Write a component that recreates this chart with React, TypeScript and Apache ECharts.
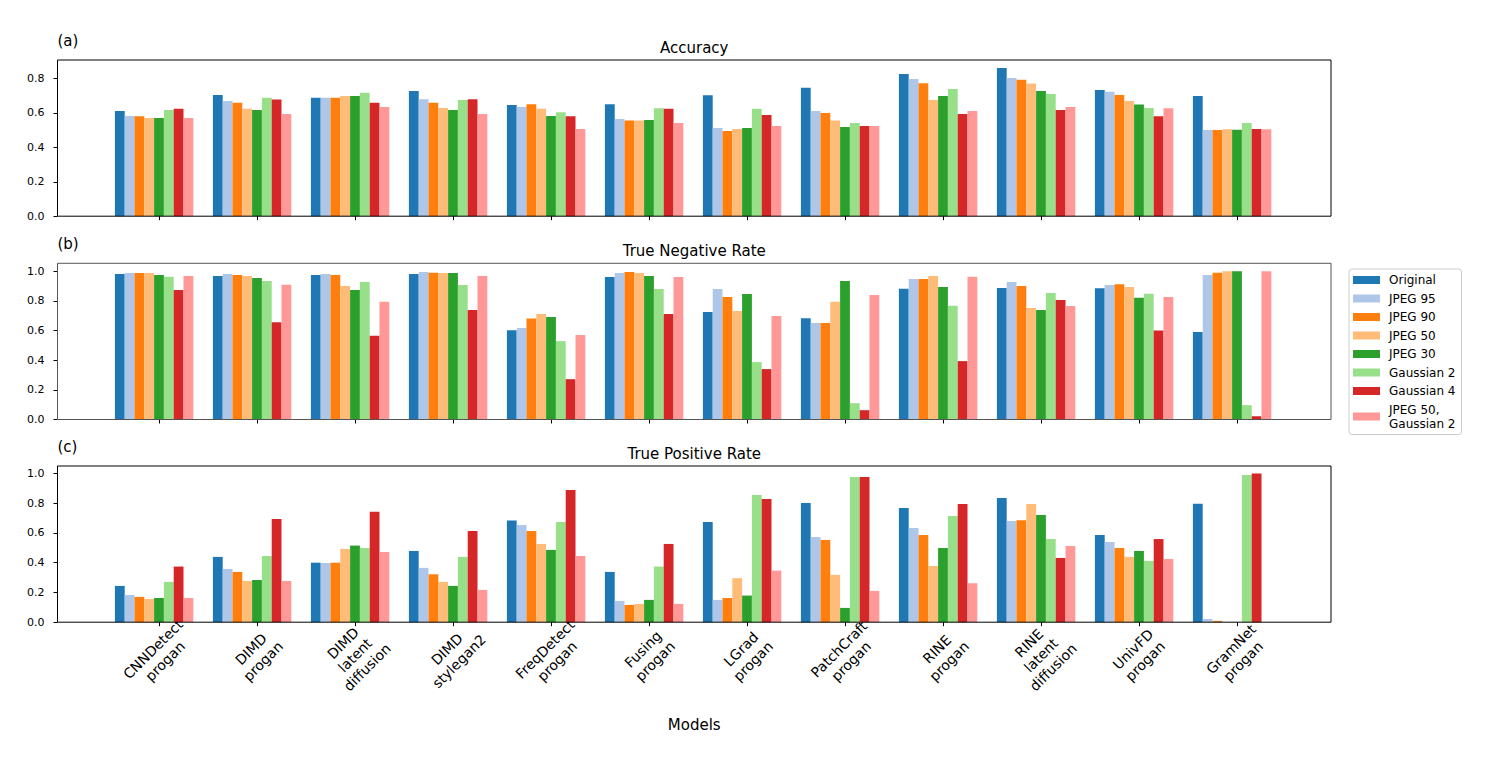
import React, { useEffect, useRef } from "react";
import * as echarts from "echarts";

// ---------- data ----------
const categories = [
  "CNNDetect\nprogan",
  "DIMD\nprogan",
  "DIMD\nlatent\ndiffusion",
  "DIMD\nstylegan2",
  "FreqDetect\nprogan",
  "Fusing\nprogan",
  "LGrad\nprogan",
  "PatchCraft\nprogan",
  "RINE\nprogan",
  "RINE\nlatent\ndiffusion",
  "UnivFD\nprogan",
  "GramNet\nprogan",
];

const seriesNames = [
  "Original",
  "JPEG 95",
  "JPEG 90",
  "JPEG 50",
  "JPEG 30",
  "Gaussian 2",
  "Gaussian 4",
  "JPEG 50,\nGaussian 2",
];

const seriesColors = [
  "#1f77b4",
  "#aec7e8",
  "#ff7f0e",
  "#ffbb78",
  "#2ca02c",
  "#98df8a",
  "#d62728",
  "#ff9896",
];

// (a) Accuracy
const accOriginal = [0.612, 0.705, 0.688, 0.728, 0.647, 0.651, 0.703, 0.746, 0.826, 0.862, 0.734, 0.699];
const accJpeg95 = [0.583, 0.670, 0.688, 0.680, 0.635, 0.565, 0.513, 0.612, 0.798, 0.804, 0.723, 0.501];
const accJpeg90 = [0.581, 0.659, 0.688, 0.659, 0.651, 0.556, 0.495, 0.600, 0.773, 0.793, 0.705, 0.501];
const accJpeg50 = [0.571, 0.624, 0.699, 0.629, 0.624, 0.556, 0.507, 0.556, 0.676, 0.771, 0.670, 0.505];
const accJpeg30 = [0.571, 0.618, 0.699, 0.618, 0.583, 0.559, 0.513, 0.519, 0.699, 0.728, 0.649, 0.503];
const accGauss2 = [0.618, 0.688, 0.717, 0.676, 0.604, 0.627, 0.624, 0.542, 0.740, 0.711, 0.629, 0.542];
const accGauss4 = [0.624, 0.678, 0.659, 0.680, 0.581, 0.624, 0.589, 0.524, 0.594, 0.618, 0.581, 0.507];
const accJpeg50Gauss2 = [0.571, 0.594, 0.635, 0.594, 0.507, 0.542, 0.524, 0.524, 0.612, 0.635, 0.627, 0.505];

// (b) True Negative Rate
const tnrOriginal = [0.982, 0.968, 0.975, 0.982, 0.603, 0.962, 0.725, 0.684, 0.883, 0.887, 0.885, 0.590];
const tnrJpeg95 = [0.989, 0.982, 0.982, 0.995, 0.617, 0.989, 0.880, 0.651, 0.948, 0.928, 0.907, 0.975];
const tnrJpeg90 = [0.989, 0.975, 0.975, 0.991, 0.682, 0.995, 0.826, 0.651, 0.948, 0.901, 0.912, 0.991];
const tnrJpeg50 = [0.989, 0.968, 0.901, 0.989, 0.712, 0.989, 0.732, 0.795, 0.968, 0.752, 0.894, 1.0];
const tnrJpeg30 = [0.975, 0.955, 0.874, 0.989, 0.691, 0.968, 0.847, 0.934, 0.894, 0.739, 0.822, 1.0];
const tnrGauss2 = [0.964, 0.934, 0.928, 0.907, 0.529, 0.880, 0.387, 0.110, 0.768, 0.853, 0.849, 0.097];
const tnrGauss4 = [0.874, 0.657, 0.565, 0.739, 0.272, 0.712, 0.340, 0.063, 0.394, 0.806, 0.601, 0.022];
const tnrJpeg50Gauss2 = [0.968, 0.910, 0.795, 0.968, 0.570, 0.962, 0.698, 0.840, 0.964, 0.766, 0.826, 1.0];

// (c) True Positive Rate
const tprOriginal = [0.244, 0.439, 0.400, 0.479, 0.683, 0.338, 0.674, 0.801, 0.768, 0.835, 0.586, 0.797];
const tprJpeg95 = [0.183, 0.358, 0.398, 0.365, 0.653, 0.143, 0.150, 0.573, 0.633, 0.680, 0.539, 0.022];
const tprJpeg90 = [0.170, 0.338, 0.400, 0.322, 0.613, 0.116, 0.163, 0.553, 0.586, 0.685, 0.499, 0.009];
const tprJpeg50 = [0.156, 0.277, 0.492, 0.271, 0.526, 0.123, 0.296, 0.318, 0.378, 0.794, 0.439, 0.0];
const tprJpeg30 = [0.163, 0.284, 0.515, 0.244, 0.486, 0.150, 0.179, 0.096, 0.499, 0.720, 0.479, 0.0];
const tprGauss2 = [0.271, 0.445, 0.499, 0.439, 0.674, 0.374, 0.855, 0.976, 0.714, 0.559, 0.412, 0.989];
const tprGauss4 = [0.374, 0.694, 0.743, 0.613, 0.889, 0.526, 0.828, 0.976, 0.794, 0.432, 0.559, 1.0];
const tprJpeg50Gauss2 = [0.163, 0.277, 0.472, 0.217, 0.445, 0.123, 0.347, 0.210, 0.262, 0.512, 0.425, 0.0];

const accTicks = [0, 0.2, 0.4, 0.6, 0.8];
const rateTicks = [0, 0.2, 0.4, 0.6, 0.8, 1.0];

const panelTitles = ["Accuracy", "True Negative Rate", "True Positive Rate"];
const panelLetters = ["(a)", "(b)", "(c)"];
const xAxisTitle = "Models";

// ---------- layout ----------
const FONT = "DejaVu Sans";
const FRAME_LEFT = 57.5;
const FRAME_RIGHT = 1331;
const BARS_LEFT = 110;
const BARS_WIDTH = 1176;
const PANEL_TOPS = [60, 263.3, 466];
const PANEL_HEIGHT = 156.2;
const PANEL_MAX = [0.908, 1.054, 1.05];
const FRAME_COLORS = ["#000", "#555", "#000"];

export default function App() {
  const ref = useRef<HTMLDivElement>(null);

  useEffect(() => {
    document.body.style.margin = "0";
    if (!ref.current) return;
    const chart = echarts.init(ref.current, undefined, { renderer: "svg" });

    const panelData = [
      [accOriginal, accJpeg95, accJpeg90, accJpeg50, accJpeg30, accGauss2, accGauss4, accJpeg50Gauss2],
      [tnrOriginal, tnrJpeg95, tnrJpeg90, tnrJpeg50, tnrJpeg30, tnrGauss2, tnrGauss4, tnrJpeg50Gauss2],
      [tprOriginal, tprJpeg95, tprJpeg90, tprJpeg50, tprJpeg30, tprGauss2, tprGauss4, tprJpeg50Gauss2],
    ];
    const panelTicks = [accTicks, rateTicks, rateTicks];

    const grids: any[] = [];
    const xAxes: any[] = [];
    const yAxes: any[] = [];
    const series: any[] = [];
    const graphics: any[] = [];

    for (let p = 0; p < 3; p++) {
      // bars grid
      grids.push({
        left: BARS_LEFT,
        width: BARS_WIDTH,
        top: PANEL_TOPS[p],
        height: PANEL_HEIGHT,
        containLabel: false,
      });
    }
    for (let p = 0; p < 3; p++) {
      // frame grid
      grids.push({
        left: FRAME_LEFT,
        width: FRAME_RIGHT - FRAME_LEFT,
        top: PANEL_TOPS[p],
        height: PANEL_HEIGHT,
        show: true,
        borderColor: FRAME_COLORS[p],
        borderWidth: 1,
        backgroundColor: "transparent",
        z: 5,
      });
    }

    for (let p = 0; p < 3; p++) {
      xAxes.push({
        type: "category",
        gridIndex: p,
        data: categories,
        axisLine: { show: false },
        axisTick: {
          show: true,
          alignWithLabel: true,
          interval: 0,
          length: 4,
          lineStyle: { color: "#000", width: 1 },
        },
        axisLabel: {
          show: p === 2,
          interval: 0,
          rotate: 45,
          align: "center",
          verticalAlign: "middle",
          margin: 33,
          fontSize: 14,
          lineHeight: 17,
          fontFamily: FONT,
          color: "#000",
        },
        splitLine: { show: false },
      });
      yAxes.push({
        type: "value",
        gridIndex: p,
        min: 0,
        max: PANEL_MAX[p],
        offset: BARS_LEFT - FRAME_LEFT,
        axisLine: { show: false },
        splitLine: { show: false },
        axisTick: {
          show: true,
          length: 4,
          customValues: panelTicks[p],
          lineStyle: { color: "#000", width: 1 },
        },
        axisLabel: {
          customValues: panelTicks[p],
          formatter: (v: number) => v.toFixed(1),
          margin: 13,
          fontSize: 11,
          fontFamily: FONT,
          color: "#000",
        },
      });
    }
    for (let p = 0; p < 3; p++) {
      xAxes.push({ type: "value", gridIndex: 3 + p, show: false, min: 0, max: 1 });
      yAxes.push({ type: "value", gridIndex: 3 + p, show: false, min: 0, max: 1 });
    }

    for (let p = 0; p < 3; p++) {
      for (let s = 0; s < seriesNames.length; s++) {
        series.push({
          type: "bar",
          name: seriesNames[s],
          xAxisIndex: p,
          yAxisIndex: p,
          data: panelData[p][s],
          itemStyle: { color: seriesColors[s] },
          barGap: "0%",
          barCategoryGap: "10%",
          emphasis: { disabled: true },
        });
      }
      // empty ninth slot (layout spacer, matches the original grouping)
      series.push({
        type: "bar",
        name: "spacer",
        xAxisIndex: p,
        yAxisIndex: p,
        data: categories.map(() => null),
        barGap: "0%",
        barCategoryGap: "10%",
        silent: true,
      });

      const cx = (FRAME_LEFT + FRAME_RIGHT) / 2;
      graphics.push({
        type: "text",
        x: FRAME_LEFT,
        y: PANEL_TOPS[p] - 19,
        style: {
          text: panelLetters[p],
          fontSize: 15,
          fontFamily: FONT,
          fill: "#000",
          align: "left",
          verticalAlign: "middle",
        },
      });
      graphics.push({
        type: "text",
        x: cx,
        y: PANEL_TOPS[p] - 12,
        style: {
          text: panelTitles[p],
          fontSize: 15,
          fontFamily: FONT,
          fill: "#000",
          align: "center",
          verticalAlign: "middle",
        },
      });
    }
    graphics.push({
      type: "text",
      x: (FRAME_LEFT + FRAME_RIGHT) / 2,
      y: 725,
      style: {
        text: xAxisTitle,
        fontSize: 15,
        fontFamily: FONT,
        fill: "#000",
        align: "center",
        verticalAlign: "middle",
      },
    });

    chart.setOption({
      animation: false,
      backgroundColor: "#fff",
      textStyle: { fontFamily: FONT },
      grid: grids,
      xAxis: xAxes,
      yAxis: yAxes,
      series,
      legend: {
        data: seriesNames,
        orient: "vertical",
        left: 1349,
        top: 269,
        icon: "rect",
        itemWidth: 27,
        itemHeight: 8,
        itemGap: 4.5,
        padding: [4, 6, 4, 4],
        borderColor: "#cccccc",
        borderWidth: 1,
        borderRadius: 3,
        backgroundColor: "rgba(255,255,255,0.8)",
        selectedMode: false,
        textStyle: {
          fontSize: 12,
          lineHeight: 14,
          fontFamily: FONT,
          color: "#000",
          padding: [0, 0, 0, 4],
        },
      },
      graphic: graphics,
    });

    return () => {
      chart.dispose();
    };
  }, []);

  return <div ref={ref} style={{ width: 1491, height: 761 }} />;
}
